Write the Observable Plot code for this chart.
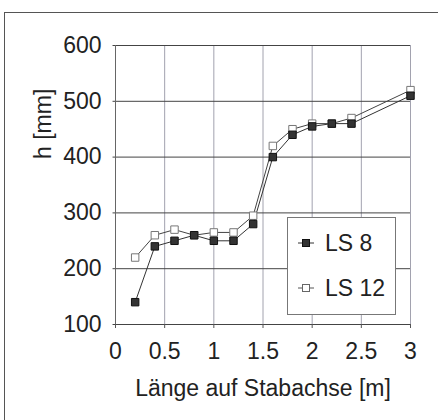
<!DOCTYPE html>
<html>
<head>
<meta charset="utf-8">
<script src="https://cdn.jsdelivr.net/npm/d3@7"></script>
<script src="https://cdn.jsdelivr.net/npm/@observablehq/plot@0.6"></script>
<style>
  html, body { margin: 0; padding: 0; background: #fff; }
  body { width: 438px; height: 420px; overflow: hidden; position: relative; font-family: "Liberation Sans", Arial, sans-serif; }
  #frame { position: absolute; left: 4px; top: 12px; width: 450px; height: 430px; border: 1.5px solid #555; box-sizing: border-box; }
  #chart { position: absolute; left: 0; top: 0; }
  #legend { position: absolute; left: 287px; top: 217px; width: 109px; height: 98px; box-sizing: border-box;
            border: 1px solid #777; background: #fff; }
  .item { position: absolute; left: 0; height: 24px; display: flex; align-items: center; font-size: 23px; color: #222; white-space: nowrap; }
  .item svg { margin-left: 10px; margin-right: 11px; }
</style>
</head>
<body>
<div id="frame"></div>
<div id="chart"></div>
<div id="legend">
  <div class="item" style="top:13px"><svg width="16" height="10"><line x1="0" y1="5" x2="16" y2="5" stroke="#333" stroke-width="1"/><rect x="4.5" y="1.5" width="7" height="7" fill="#333" stroke="#111"/></svg>LS 8</div>
  <div class="item" style="top:58px"><svg width="16" height="10"><line x1="0" y1="5" x2="16" y2="5" stroke="#555" stroke-width="1"/><rect x="4.5" y="1.5" width="7" height="7" fill="#fff" stroke="#666"/></svg>LS 12</div>
</div>
<script>
const lengths = [0.2, 0.4, 0.6, 0.8, 1.0, 1.2, 1.4, 1.6, 1.8, 2.0, 2.2, 2.4, 3.0];
const ls8  = [140, 240, 250, 260, 250, 250, 280, 400, 440, 455, 460, 460, 510];
const ls12 = [220, 260, 270, 260, 265, 265, 295, 420, 450, 460, 460, 470, 520];
const xTicks = [0, 0.5, 1, 1.5, 2, 2.5, 3];
const yTicks = [100, 200, 300, 400, 500, 600];
const xTitle = "Länge auf Stabachse [m]";
const yTitle = "h [mm]";

const d8 = lengths.map((x, i) => ({x, y: ls8[i]}));
const d12 = lengths.map((x, i) => ({x, y: ls12[i]}));

const chart = Plot.plot({
  width: 438,
  height: 420,
  marginLeft: 115,
  marginRight: 28,
  marginTop: 45,
  marginBottom: 96,
  style: {fontFamily: "Liberation Sans, Arial, sans-serif", fontSize: "23px", color: "#222", background: "transparent"},
  x: {domain: [0, 3], ticks: xTicks},
  y: {domain: [100, 600], ticks: yTicks},
  marks: [
    Plot.gridX(xTicks, {stroke: "#8a8a9a", strokeOpacity: 1, strokeWidth: 0.8}),
    Plot.ruleY(yTicks, {x1: -0.025, x2: 3, stroke: "#444", strokeWidth: 1}),
    Plot.ruleX([0], {stroke: "#666", strokeWidth: 1}),
    Plot.axisX({ticks: xTicks, tickFormat: d => String(d), tickSize: 4, tickPadding: 14, stroke: "#555", label: null, fill: "#222"}),
    Plot.axisY({ticks: yTicks, tickFormat: d => String(d), tickSize: 0, tickPadding: 14, label: null, fill: "#222"}),
    Plot.text([xTitle], {frameAnchor: "bottom", dy: 71, fill: "#222", fontSize: 23}),
    Plot.text([yTitle], {frameAnchor: "left", dx: -72, dy: -26, rotate: -90, fill: "#222", fontSize: 23}),
    Plot.line(d12, {x: "x", y: "y", stroke: "#444", strokeWidth: 1}),
    Plot.line(d8, {x: "x", y: "y", stroke: "#333", strokeWidth: 1}),
    Plot.dot(d12, {x: "x", y: "y", symbol: "square", r: 4.2, fill: "#fff", stroke: "#777", strokeWidth: 1}),
    Plot.dot(d8, {x: "x", y: "y", symbol: "square", r: 4.2, fill: "#333", stroke: "#111", strokeWidth: 1})
  ]
});
document.getElementById("chart").appendChild(chart);
</script>
</body>
</html>
